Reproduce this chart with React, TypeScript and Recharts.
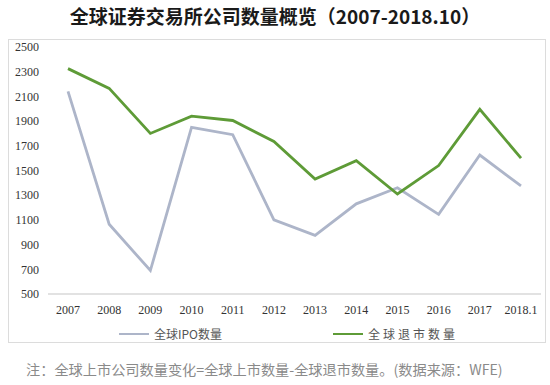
import React from "react";
import { LineChart, Line, XAxis, YAxis } from "recharts";

const years = ["2007", "2008", "2009", "2010", "2011", "2012", "2013", "2014", "2015", "2016", "2017", "2018.1"];
const ipoCounts = [2140, 1065, 690, 1850, 1790, 1100, 975, 1230, 1360, 1145, 1625, 1375];
const delistCounts = [2325, 2165, 1800, 1940, 1905, 1735, 1430, 1580, 1310, 1540, 1995, 1600];
const yTicks = [500, 700, 900, 1100, 1300, 1500, 1700, 1900, 2100, 2300, 2500];

const seriesNames = { ipo: "全球IPO数量", delist: "全球退市数量" };
const colors = { ipo: "#adb5c9", delist: "#5e9b37" };

const data = years.map((y, i) => ({ year: y, ipo: ipoCounts[i], delist: delistCounts[i] }));

const serif = "'Liberation Serif', 'DejaVu Serif', serif";

export default function App() {
  return (
    <div style={{ position: "absolute", left: 0, top: 0, width: 550, height: 385, background: "#fff", fontFamily: "'Noto Sans CJK SC', sans-serif" }}>
      <div style={{ position: "absolute", left: 0, top: 4, width: 550, textAlign: "center", fontSize: 19, fontWeight: 700, color: "#1a1a1a", lineHeight: "24px" }}>
        全球证券交易所公司数量概览（2007-2018.10）
      </div>
      <div style={{ position: "absolute", left: 8, top: 39, width: 536, height: 302, border: "1px solid #dcdcdc", boxSizing: "content-box" }}>
        <LineChart width={536} height={302} data={data} margin={{ top: 7, right: 4, left: 0, bottom: 26 }}>
          <XAxis
            dataKey="year"
            padding={{ left: 20, right: 20 }}
            axisLine={{ stroke: "#d9d9d9", strokeWidth: 1.5 }}
            tickLine={false}
            tickMargin={5}
            height={22}
            interval={0}
            tick={{ fill: "#333", fontSize: 12, fontFamily: serif }}
          />
          <YAxis
            domain={[500, 2500]}
            ticks={yTicks}
            interval={0}
            axisLine={false}
            tickLine={false}
            tickMargin={3}
            width={39}
            tick={{ fill: "#333", fontSize: 12, fontFamily: serif }}
          />
          <Line type="linear" dataKey="ipo" name={seriesNames.ipo} stroke={colors.ipo} strokeWidth={2.8} dot={false} isAnimationActive={false} />
          <Line type="linear" dataKey="delist" name={seriesNames.delist} stroke={colors.delist} strokeWidth={2.8} dot={false} isAnimationActive={false} />
        </LineChart>
        <div style={{ position: "absolute", left: 110, top: 285, display: "flex", alignItems: "center", fontSize: 12, color: "#555" }}>
          <span style={{ display: "inline-block", width: 30, height: 2, background: colors.ipo, marginRight: 5 }} />
          <span>全球IPO数量</span>
        </div>
        <div style={{ position: "absolute", left: 324, top: 285, display: "flex", alignItems: "center", fontSize: 12, color: "#555" }}>
          <span style={{ display: "inline-block", width: 30, height: 2, background: colors.delist, marginRight: 5 }} />
          <span style={{ letterSpacing: 3 }}>全球退市数量</span>
        </div>
      </div>
      <div style={{ position: "absolute", left: 26, top: 359, fontSize: 14.2, color: "#8a8a8a", lineHeight: "20px", whiteSpace: "nowrap" }}>
        注：全球上市公司数量变化=全球上市数量-全球退市数量。(数据来源：WFE)
      </div>
    </div>
  );
}
